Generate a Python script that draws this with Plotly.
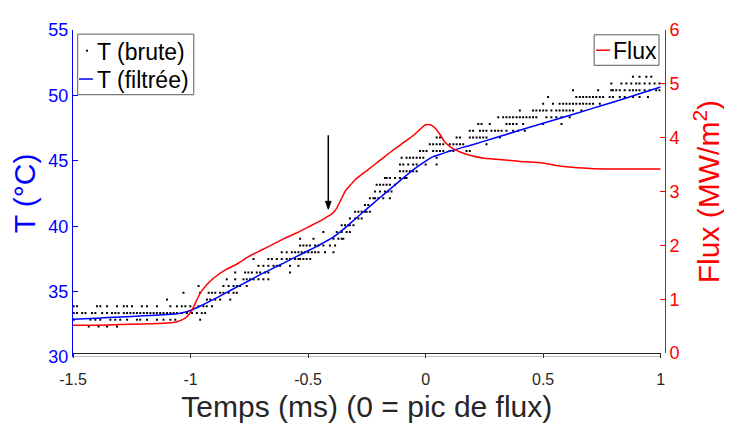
import plotly.graph_objects as go

# ---- Filtered temperature (T filtrée) ----
t_filt = [-1.5, -1.4, -1.3, -1.2, -1.1, -1.05, -1.0, -0.95, -0.9, -0.85, -0.8, -0.75, -0.7,
          -0.65, -0.6, -0.55, -0.5, -0.45, -0.4, -0.35, -0.3, -0.25, -0.2, -0.15, -0.1, -0.05,
          0.0, 0.03, 0.075, 0.1, 0.2, 0.3, 0.4, 0.5, 0.6, 0.7, 0.8, 0.9, 1.0]
T_filt = [32.88, 32.97, 33.06, 33.15, 33.25, 33.33, 33.56, 33.97, 34.42, 34.90, 35.38, 35.85, 36.33,
          36.77, 37.22, 37.67, 38.12, 38.58, 39.08, 39.76, 40.55, 41.32, 42.10, 42.85, 43.62, 44.35,
          44.98, 45.30, 45.57, 45.73, 46.23, 46.78, 47.33, 47.87, 48.40, 48.95, 49.50, 50.07, 50.64]

# ---- Flux ----
t_flux = [-1.5, -1.4, -1.3, -1.2, -1.1, -1.06, -1.03, -1.01, -0.99, -0.97, -0.95, -0.92, -0.9,
          -0.85, -0.8, -0.75, -0.7, -0.65, -0.6, -0.55, -0.5, -0.45, -0.42, -0.4, -0.38, -0.36,
          -0.34, -0.32, -0.3, -0.25, -0.2, -0.15, -0.1, -0.05, -0.02, 0.0, 0.02, 0.04, 0.06,
          0.08, 0.1, 0.12, 0.15, 0.2, 0.25, 0.3, 0.35, 0.4, 0.45, 0.5, 0.55, 0.6, 0.7, 0.8, 0.9, 1.0]
flux = [0.52, 0.52, 0.53, 0.54, 0.56, 0.58, 0.63, 0.70, 0.83, 1.02, 1.17, 1.32, 1.40,
        1.55, 1.66, 1.80, 1.91, 2.02, 2.13, 2.23, 2.34, 2.45, 2.53, 2.58, 2.68, 2.85,
        3.02, 3.12, 3.22, 3.39, 3.56, 3.73, 3.89, 4.05, 4.17, 4.24, 4.24, 4.18, 4.07,
        3.93, 3.85, 3.79, 3.73, 3.66, 3.62, 3.60, 3.58, 3.56, 3.55, 3.53, 3.49, 3.46, 3.43, 3.42, 3.42, 3.42]

# ---- Raw temperature (T brute): quantised levels and the times at which dots appear ----
raw_levels = [32.33, 32.85, 33.36, 33.88, 34.39, 34.91, 35.43, 35.94, 36.46, 36.97,
              37.49, 38.01, 38.52, 39.04, 39.55, 40.07, 40.59, 41.10, 41.62, 42.13,
              42.65, 43.17, 43.68, 44.20, 44.71, 45.23, 45.75, 46.26, 46.78, 47.29,
              47.81, 48.33, 48.84, 49.36, 49.87, 50.39, 50.91, 51.42]
raw_times = [
    [-1.433, -1.391, -1.355, -1.313],
    [-1.497, -1.426, -1.405, -1.384, -1.341, -1.320, -1.299, -1.270, -1.228, -1.214, -1.185,
     -1.143, -1.115, -1.086, -1.065, -0.959],
    [-1.497, -1.483, -1.461, -1.447, -1.419, -1.405, -1.376, -1.355, -1.334, -1.320, -1.306,
     -1.284, -1.270, -1.256, -1.242, -1.228, -1.214, -1.199, -1.185, -1.171, -1.157, -1.143,
     -1.129, -1.115, -1.100, -1.086, -1.072, -1.058, -1.037, -1.015, -0.994, -0.973, -0.952, -0.938],
    [-1.497, -1.483, -1.398, -1.384, -1.355, -1.313, -1.284, -1.270, -1.249, -1.207, -1.185,
     -1.143, -1.086, -1.058, -1.037, -1.022, -1.001, -0.966, -0.945, -0.931, -0.909],
    [-1.100, -0.930, -0.916, -0.895, -0.874, -0.831],
    [-1.030, -0.959, -0.923, -0.909, -0.895, -0.874, -0.860, -0.838, -0.817, -0.803],
    [-0.966, -0.860, -0.838, -0.817, -0.803, -0.789, -0.761],
    [-0.846, -0.810, -0.775, -0.761, -0.747, -0.732, -0.711, -0.690, -0.669],
    [-0.810, -0.768, -0.754, -0.739, -0.718, -0.704, -0.683, -0.669, -0.577],
    [-0.711, -0.690, -0.669, -0.647, -0.633, -0.619, -0.577, -0.541],
    [-0.732, -0.669, -0.654, -0.633, -0.612, -0.591, -0.577, -0.555, -0.541, -0.534, -0.520,
     -0.506, -0.491],
    [-0.612, -0.591, -0.569, -0.555, -0.541, -0.527, -0.513, -0.499, -0.484, -0.470, -0.456,
     -0.428, -0.392],
    [-0.534, -0.520, -0.506, -0.492, -0.470, -0.456, -0.435, -0.407, -0.385],
    [-0.534, -0.477, -0.392, -0.371, -0.357, -0.350],
    [-0.435, -0.378, -0.357, -0.336, -0.322],
    [-0.357, -0.343, -0.329, -0.322, -0.307],
    [-0.322, -0.300, -0.286, -0.272],
    [-0.300, -0.286, -0.272, -0.258, -0.251, -0.237],
    [-0.258, -0.244],
    [-0.237, -0.222, -0.215, -0.201, -0.180, -0.152],
    [-0.215, -0.194, -0.173, -0.159, -0.145],
    [-0.208, -0.194, -0.180, -0.166, -0.152, -0.130],
    [-0.173, -0.166, -0.152, -0.130, -0.109, -0.088, -0.081],
    [-0.109, -0.095, -0.081, -0.067, -0.053, -0.038],
    [-0.109, -0.095, -0.074, -0.053, -0.038, 0.000, 0.047],
    [-0.102, -0.081, -0.067, -0.053, -0.038, -0.024, -0.010, 0.047],
    [-0.024, -0.010, 0.004, 0.032, 0.047, 0.061, 0.075, 0.103, 0.118, 0.174, 0.188],
    [0.018, 0.032, 0.047, 0.061, 0.075, 0.103, 0.118, 0.132, 0.146, 0.160, 0.259],
    [0.047, 0.061, 0.132, 0.146, 0.188, 0.202, 0.217, 0.231, 0.245, 0.259, 0.316],
    [0.188, 0.202, 0.231, 0.245, 0.259, 0.280, 0.295, 0.309, 0.323, 0.344, 0.372, 0.394, 0.422],
    [0.224, 0.238, 0.273, 0.344, 0.358, 0.372, 0.387, 0.415, 0.500, 0.578],
    [0.309, 0.330, 0.344, 0.358, 0.372, 0.387, 0.401, 0.415, 0.429, 0.443, 0.457, 0.471, 0.514,
     0.535, 0.556, 0.578, 0.613],
    [0.401, 0.457, 0.471, 0.486, 0.500, 0.514, 0.535, 0.556, 0.570, 0.585, 0.599, 0.613, 0.627, 0.663],
    [0.500, 0.542, 0.570, 0.585, 0.599, 0.613, 0.627, 0.641, 0.656, 0.670, 0.684, 0.698, 0.712, 0.741],
    [0.521, 0.641, 0.656, 0.670, 0.684, 0.698, 0.712, 0.726, 0.741, 0.755, 0.783, 0.797, 0.826,
     0.847, 0.882, 0.910, 0.946],
    [0.627, 0.734, 0.790, 0.797, 0.811, 0.826, 0.847, 0.868, 0.882, 0.896, 0.910, 0.932, 0.953,
     0.981, 0.995],
    [0.790, 0.833, 0.854, 0.875, 0.896, 0.910, 0.932, 0.953, 0.974, 0.995],
    [0.882, 0.910, 0.939, 0.960],
]

x_ticks = [-1.5, -1.0, -0.5, 0.0, 0.5, 1.0]
x_ticktext = ["-1.5", "-1", "-0.5", "0", "0.5", "1"]
T_ticks = [30, 35, 40, 45, 50, 55]
flux_ticks = [0, 1, 2, 3, 4, 5, 6]
legend_left_labels = ["T (brute)", "T (filtrée)"]
legend_right_labels = ["Flux"]

# arrow marking the change of slope
arrow_t = -0.414
arrow_head_T = 41.3
arrow_tail_T = 46.95

raw_t, raw_T = [], []
for lvl, ts in zip(raw_levels, raw_times):
    raw_t.extend(ts)
    raw_T.extend([lvl] * len(ts))

FONT = "Liberation Sans, Arial, Helvetica, sans-serif"
DARK = "#262626"
BLUE = "#0000ff"
RED = "#ff0000"

fig = go.Figure()
fig.add_trace(go.Scatter(x=raw_t, y=raw_T, mode="markers", name=legend_left_labels[0],
                         marker=dict(symbol="square", size=2, color="black", line=dict(width=0)),
                         xaxis="x", yaxis="y", showlegend=False))
fig.add_trace(go.Scatter(x=t_filt, y=T_filt, mode="lines", name=legend_left_labels[1],
                         line=dict(color=BLUE, width=1.5, shape="spline", smoothing=0.5),
                         xaxis="x", yaxis="y", showlegend=False))
fig.add_trace(go.Scatter(x=t_flux, y=flux, mode="lines", name=legend_right_labels[0],
                         line=dict(color=RED, width=1.5, shape="spline", smoothing=0.5),
                         xaxis="x", yaxis="y2", showlegend=False))

# arrow: shaft + filled head in data coordinates
head_len_T = 0.6
head_half_w = 0.012
shapes = [
    dict(type="line", xref="x", yref="y", x0=-1.5, x1=1.0, y0=30, y1=30,
         line=dict(color="#808080", width=1)),
    dict(type="line", xref="x", yref="y", x0=arrow_t, x1=arrow_t,
         y0=arrow_tail_T, y1=arrow_head_T + head_len_T, line=dict(color="black", width=1.5)),
    dict(type="path", xref="x", yref="y",
         path=f"M {arrow_t - head_half_w},{arrow_head_T + head_len_T} L {arrow_t},{arrow_head_T} "
              f"L {arrow_t + head_half_w},{arrow_head_T + head_len_T} Z",
         fillcolor="black", line=dict(color="black", width=1)),
    # legend boxes (drawn manually to match the compact original)
    dict(type="rect", xref="paper", yref="paper", x0=0.0079, x1=0.2040, y0=0.8021, y1=0.9874,
         fillcolor="white", line=dict(color="#5a5a5a", width=1)),
    dict(type="rect", xref="paper", yref="paper", x0=0.0219, x1=0.0253, y0=0.9338, y1=0.9397,
         fillcolor="black", line=dict(width=0)),
    dict(type="line", xref="paper", yref="paper", x0=0.0101, x1=0.0337, y0=0.850, y1=0.850,
         line=dict(color=BLUE, width=1.5)),
    dict(type="rect", xref="paper", yref="paper", x0=0.8803, x1=0.9899, y0=0.8921, y1=0.9853,
         fillcolor="white", line=dict(color="#5a5a5a", width=1)),
    dict(type="line", xref="paper", yref="paper", x0=0.8836, x1=0.9073, y0=0.9382, y1=0.9382,
         line=dict(color=RED, width=1.5)),
]
annotations = [
    dict(x=0.0371, y=0.9324, xref="paper", yref="paper", xanchor="left", yanchor="middle",
         text=legend_left_labels[0], showarrow=False, font=dict(size=23, color="black")),
    dict(x=0.0371, y=0.8485, xref="paper", yref="paper", xanchor="left", yanchor="middle",
         text=legend_left_labels[1], showarrow=False, font=dict(size=23, color="black")),
    dict(x=0.9089, y=0.9368, xref="paper", yref="paper", xanchor="left", yanchor="middle",
         text=legend_right_labels[0], showarrow=False, font=dict(size=23, color="black")),
]

fig.update_layout(
    width=724, height=421,
    margin=dict(l=65, r=66, t=12, b=69, pad=0),
    paper_bgcolor="white", plot_bgcolor="rgba(0,0,0,0)",
    font=dict(family=FONT, color=DARK),
    showlegend=False,
    xaxis=dict(domain=[0, 0.9927], range=[-1.5, 1.0], anchor="y2",
               tickvals=x_ticks, ticktext=x_ticktext,
               showline=True, linecolor=DARK, linewidth=1, mirror=False,
               ticks="outside", ticklen=4, tickcolor=DARK, tickwidth=1,
               tickfont=dict(size=16, color=DARK), ticklabelstandoff=8,
               showgrid=False, zeroline=False,
               title=dict(text="Temps (ms) (0 = pic de flux)", font=dict(size=30, color=DARK),
                          standoff=8)),
    yaxis=dict(domain=[0, 1], range=[30, 55], anchor="x", side="left",
               tickvals=T_ticks, showline=True, linecolor=BLUE, linewidth=1,
               ticks="inside", ticklen=5, tickcolor=BLUE,
               tickfont=dict(size=18, color=BLUE),
               showgrid=False, zeroline=False,
               title=dict(text="T (°C)", font=dict(size=30, color=BLUE), standoff=4)),
    yaxis2=dict(domain=[4 / 340, 1], range=[0, 6], anchor="free", position=1.0, side="right",
                tickvals=flux_ticks, showline=True, linecolor=RED, linewidth=1,
                ticks="inside", ticklen=5, tickcolor=RED,
                tickfont=dict(size=18, color=RED),
                showgrid=False, zeroline=False,
                title=dict(text="Flux (MW/m<sup>2</sup>)", font=dict(size=30, color=RED),
                           standoff=19)),
    shapes=shapes,
    annotations=annotations,
)

fig.write_html("out.html")
